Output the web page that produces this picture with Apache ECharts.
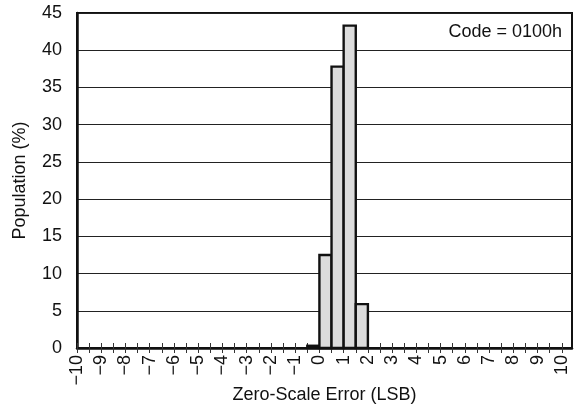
<!DOCTYPE html>
<html>
<head>
<meta charset="utf-8">
<script src="https://cdn.jsdelivr.net/npm/echarts@6/dist/echarts.min.js"></script>
<style>
html,body{margin:0;padding:0;background:#fff;}
#chart{width:574px;height:409px;}
</style>
</head>
<body>
<div id="chart"></div>
<script>
// Histogram bins (LSB) and population (%)
const binLow = [-0.5, 0, 0.5, 1, 1.5];
const binHigh = [0, 0.5, 1, 1.5, 2];
const population = [0.3, 12.5, 37.8, 43.3, 5.9];

// Axis tick labels
const xLabelValues = [-10,-9,-8,-7,-6,-5,-4,-3,-2,-1,0,1,2,3,4,5,6,7,8,9,10];
const xTickValues = [];
for (let v = -10; v <= 10; v += 0.5) xTickValues.push(v);
const yTickValues = [0,5,10,15,20,25,30,35,40,45];

const xTitle = 'Zero-Scale Error (LSB)';
const yTitle = 'Population (%)';
const annotation = 'Code = 0100h';

const FONT = 'Liberation Sans';
const FS = 18;
const GRID = {left: 77, right: 2, top: 13, bottom: 61, outerBoundsMode: 'none', containLabel: false};
const XMIN = -10, XMAX = 10.42;

const chart = echarts.init(document.getElementById('chart'), null, {renderer: 'canvas'});
const binData = binLow.map((lo, i) => [lo, binHigh[i], population[i]]);

chart.setOption({
  animation: false,
  backgroundColor: '#fff',
  grid: [
    Object.assign({show: true, borderColor: '#111', borderWidth: 2, backgroundColor: 'transparent'}, GRID),
    Object.assign({show: false}, GRID)
  ],
  xAxis: [{
    gridIndex: 0, type: 'value', min: XMIN, max: XMAX, position: 'bottom',
    name: xTitle, nameLocation: 'middle', nameGap: 38, nameMoveOverlap: false,
    nameTextStyle: {fontFamily: FONT, fontSize: FS, color: '#111'},
    axisLine: {show: true, onZero: false, lineStyle: {color: '#111', width: 2.5}},
    axisTick: {show: true, inside: false, length: 5, customValues: xTickValues, lineStyle: {color: '#333', width: 1}},
    axisLabel: {show: true, rotate: 90, margin: 7, customValues: xLabelValues, fontFamily: FONT, fontSize: FS, color: '#111',
      formatter: v => v < 0 ? '\u2212' + Math.abs(v) : String(v)},
    splitLine: {show: false}
  }, {
    gridIndex: 1, type: 'value', min: XMIN, max: XMAX, position: 'bottom',
    axisLine: {show: false, onZero: false},
    axisTick: {show: true, inside: true, length: 5, customValues: xTickValues, lineStyle: {color: '#333', width: 1}},
    axisLabel: {show: false},
    splitLine: {show: false}
  }],
  yAxis: [{
    gridIndex: 0, type: 'value', min: 0, max: 45, interval: 5,
    name: yTitle, nameLocation: 'middle', nameGap: 48, nameMoveOverlap: false,
    nameTextStyle: {fontFamily: FONT, fontSize: FS, color: '#111'},
    axisLine: {show: true, onZero: false, lineStyle: {color: '#111', width: 2.5}},
    axisTick: {show: false},
    axisLabel: {margin: 15, fontFamily: FONT, fontSize: FS, color: '#111', customValues: yTickValues},
    splitLine: {show: true, lineStyle: {color: '#222', width: 1}}
  }, {
    gridIndex: 1, type: 'value', min: 0, max: 45, show: false
  }],
  graphic: [{
    type: 'text', right: 12, top: 23,
    style: {text: annotation, fontFamily: FONT, fontSize: FS, fill: '#111'}
  }],
  series: [{
    type: 'custom',
    xAxisIndex: 0, yAxisIndex: 0,
    data: binData,
    renderItem: function (params, api) {
      const p0 = api.coord([api.value(0), api.value(2)]);
      const p1 = api.coord([api.value(1), 0]);
      return {
        type: 'rect',
        shape: {x: p0[0], y: p0[1], width: p1[0] - p0[0], height: p1[1] - p0[1]},
        style: {fill: '#dcdcdc', stroke: '#111', lineWidth: 2.4}
      };
    },
    encode: {x: [0, 1], y: 2}
  }]
});
</script>
</body>
</html>
